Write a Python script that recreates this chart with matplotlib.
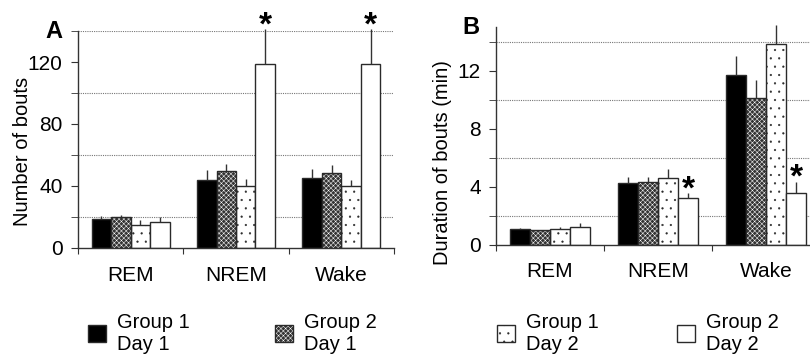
import matplotlib
matplotlib.use("Agg")
import matplotlib.pyplot as plt
import numpy as np
from matplotlib.legend_handler import HandlerTuple

plt.rcParams['font.family'] = ['Liberation Sans', 'DejaVu Sans']
plt.rcParams['font.size'] = 14.5
plt.rcParams['hatch.linewidth'] = 0.35

categories = ['REM', 'NREM', 'Wake']
series_labels = ['Group 1\nDay 1', 'Group 2\nDay 1', 'Group 1\nDay 2', 'Group 2\nDay 2']

# panel A: number of bouts (mean, upper error)
bouts_mean = [[18.6, 44, 45],
              [20.2, 49.5, 48.5],
              [15, 40, 40],
              [16.8, 118.5, 118.5]]
bouts_err = [[2, 6, 6],
             [1.2, 4.5, 5],
             [3, 4.5, 4],
             [3.4, 22.5, 22.5]]

# panel B: duration of bouts in min (mean, upper error)
dur_mean = [[1.08, 4.26, 11.72],
            [1.03, 4.35, 10.12],
            [1.12, 4.6, 13.85],
            [1.26, 3.23, 3.55]]
dur_err = [[0.07, 0.45, 1.33],
           [0.03, 0.35, 1.26],
           [0.14, 0.64, 1.33],
           [0.24, 0.32, 0.8]]

# which categories get a star over the last series
star_cats = ['NREM', 'Wake']

edge = '#2a2a2a'


def draw_panel(ax, means, errs, ymax, grid_step, tick_step, ylabel, letter, label_xy, xpad):
    x0 = np.arange(len(categories))
    w = 0.185
    handles = []
    for i, (m, e) in enumerate(zip(means, errs)):
        xs = x0 + 0.13 + w / 2 + i * w
        if i == 0:
            b = ax.bar(xs, m, w, color='black', edgecolor=edge, linewidth=1, zorder=2)
            h = b
        elif i == 1:
            # dark checker: white fine mesh over a dark fill, outline drawn on top
            b0 = ax.bar(xs, m, w, color='#333333', hatch='xxxxxxx', edgecolor='white',
                        linewidth=0, zorder=2)
            b = ax.bar(xs, m, w, fill=False, edgecolor=edge, linewidth=1, zorder=3)
            h = (b0, b)
        elif i == 2:
            b = ax.bar(xs, m, w, color='white', hatch='..', edgecolor=edge,
                       linewidth=1, zorder=2)
            h = b
        else:
            b = ax.bar(xs, m, w, color='white', edgecolor=edge, linewidth=1, zorder=2)
            h = b
        handles.append(h)
        tops = np.array(m) + np.array(e)
        ax.vlines(xs, m, tops, color='#333333', linewidth=1, zorder=4, clip_on=False)
        if i == len(means) - 1:
            for c in star_cats:
                k = categories.index(c)
                ax.annotate('*', xy=(xs[k], tops[k]), xytext=(0, -3.5),
                            textcoords='offset points', ha='center', va='baseline',
                            fontsize=24, fontweight='bold', annotation_clip=False)

    ax.set_xlim(0, len(categories))
    ax.set_ylim(0, ymax)
    ax.set_xticks(np.arange(len(categories) + 1))
    ax.set_xticklabels([])
    ax.set_xticks(x0 + 0.5, minor=True)
    ax.set_xticklabels(categories, minor=True, fontsize=15)
    ax.tick_params(axis='x', which='major', length=4, direction='out', color='#333333')
    ax.tick_params(axis='x', which='minor', length=0, pad=xpad)
    ax.set_yticks(np.arange(0, ymax + 0.01, tick_step))
    ax.set_yticks(np.arange(0, ymax + 0.01, grid_step), minor=True)
    ax.tick_params(axis='y', which='both', length=5, color='#333333', pad=6, labelsize=15)
    ax.yaxis.grid(True, which='minor', linestyle=(0, (1, 1)), color='#777777', linewidth=0.8)
    ax.set_axisbelow(True)
    for s in ['top', 'right']:
        ax.spines[s].set_visible(False)
    for s in ['left', 'bottom']:
        ax.spines[s].set_color('#333333')
        ax.spines[s].set_linewidth(1)
    ax.set_ylabel(ylabel)
    ax.yaxis.set_label_coords(*label_xy)
    ax.text(-0.05, 1.0, letter, transform=ax.transAxes, ha='right', va='center',
            fontsize=17, fontweight='bold')
    return handles


fig = plt.figure(figsize=(8.1, 3.56), dpi=100)
axA = fig.add_axes([0.0963, 0.3034, 0.3901, 0.6095])
axB = fig.add_axes([0.6123, 0.3118, 0.4000, 0.6115])

handles = draw_panel(axA, bouts_mean, bouts_err, 140, 20, 40, 'Number of bouts', 'A',
                     (-0.146, 0.447), 13)
draw_panel(axB, dur_mean, dur_err, 15, 2, 4, 'Duration of bouts (min)', 'B',
           (-0.135, 0.38), 12)

leg_x = [88, 275, 497, 677]
for h, lab, lx in zip(handles, series_labels, leg_x):
    fig.legend([h], [lab], loc='center left', bbox_to_anchor=(lx / 810, 1 - 333 / 356),
               frameon=False, borderpad=0, borderaxespad=0, handlelength=0.9,
               handleheight=0.9, handletextpad=0.55, fontsize=14.5,
               handler_map={tuple: HandlerTuple(ndivide=1, pad=0)})

fig.savefig('out.png', dpi=100)
